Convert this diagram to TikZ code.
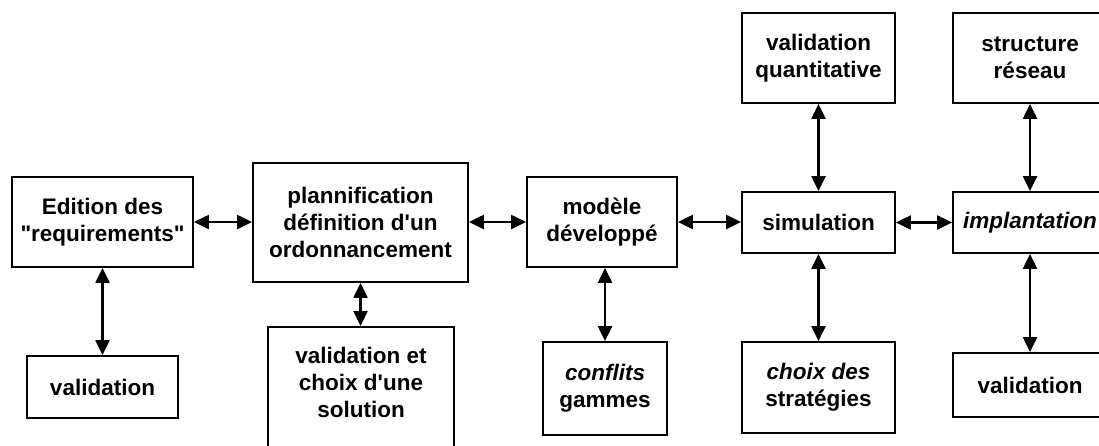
\documentclass[tikz,border=0pt]{standalone}
\usepackage{fontspec}
\setmainfont{Liberation Sans}
\usetikzlibrary{arrows.meta}
% straight quote marks, set as glyphs so no input mapping curls them
\newcommand\straightquote{\XeTeXglyph\XeTeXcharglyph"22\relax}
\newcommand\straightapos{\XeTeXglyph\XeTeXcharglyph"27\relax}
\begin{document}
\begin{tikzpicture}[x=1pt,y=-1pt,
  box/.style={draw, line width=1.8pt, inner sep=0pt, align=center,
    font=\fontsize{22.5}{27}\selectfont\bfseries},
  txt/.style={inner sep=0pt, align=center,
    font=\fontsize{22.5}{27}\selectfont\bfseries},
  link/.style={line width=2.2pt, {Triangle[width=14pt,length=15pt]}-{Triangle[width=14pt,length=15pt]}}]
\useasboundingbox (0,0) rectangle (1099,445);

% main chain
\node[box, minimum width=181pt, minimum height=90pt] (edition) at (102.5,222) {Edition des\\\straightquote requirements\straightquote};
\node[box, minimum width=215pt, minimum height=119pt] (plann) at (360.5,222.5) {plannification\\définition d\straightapos un\\ordonnancement};
\node[box, minimum width=150pt, minimum height=90pt] (modele) at (602,222) {modèle\\développé};
\node[box, minimum width=153pt, minimum height=61pt] (sim) at (818.5,222.5) {simulation};
\node[box, minimum width=154pt, minimum height=61pt] (impl) at (1030,222.5) {\itshape implantation};

% side boxes
\node[box, minimum width=151pt, minimum height=62pt] (valL) at (102.5,387) {validation};
\node[box, minimum width=186pt, minimum height=140pt, anchor=north] (valchoix) at (361,326) {};
\node[txt] (valchoixtxt) at (361,382) {validation et\\choix d\straightapos une\\solution};
\node[box, minimum width=124pt, minimum height=93pt] (conflits) at (605,388.5) {\textit{conflits}\\gammes};
\node[box, minimum width=153pt, minimum height=90pt] (vq) at (818.5,58) {validation\\quantitative};
\node[box, minimum width=153pt, minimum height=91pt] (choix) at (818.5,387.5) {\textit{choix des}\\stratégies};
\node[box, minimum width=154pt, minimum height=90pt] (sr) at (1030,58) {structure\\réseau};
\node[box, minimum width=154pt, minimum height=64pt] (valR) at (1030,385) {validation};

% horizontal links
\draw[link] (edition.east) -- (plann.west |- edition.east);
\draw[link] (plann.east |- modele.west) -- (modele.west);
\draw[link] (modele.east) -- (sim.west |- modele.east);
\draw[link] (sim.east) -- (impl.west);

% vertical links
\draw[link] (edition.south) -- (valL.north);
\draw[link] (plann.south) -- (plann.south |- valchoix.north);
\draw[link] (modele.south -| conflits.north) -- (conflits.north);
\draw[link] (sim.north) -- (vq.south);
\draw[link] (sim.south) -- (choix.north);
\draw[link] (impl.north) -- (sr.south);
\draw[link] (impl.south) -- (valR.north);
\end{tikzpicture}
\end{document}
